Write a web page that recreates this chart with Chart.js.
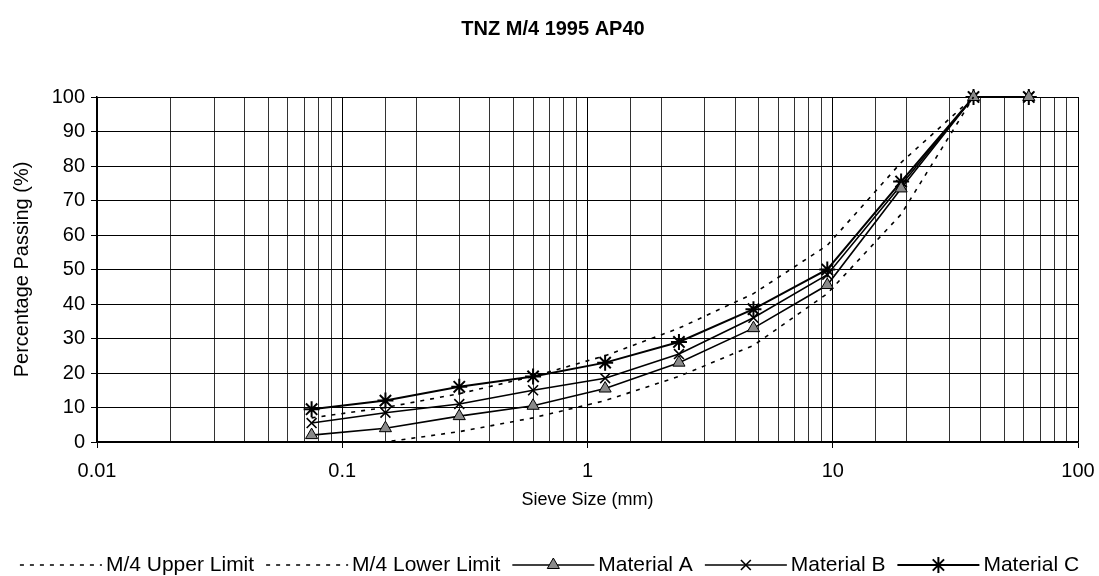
<!DOCTYPE html>
<html lang="en">
<head>
  <meta charset="UTF-8">
  <title>TNZ M/4 1995 AP40</title>
  <script src="https://cdn.jsdelivr.net/npm/chart.js"></script>
  <style>
    html, body {
      margin: 0;
      padding: 0;
      background: #fff;
    }
    #wrap {
      width: 1099px;
      height: 576px;
    }
  </style>
</head>
<body>
  <div id="wrap"><canvas id="gradingChart" width="1099" height="576"></canvas></div>

  <script>
    // sieve sizes (mm) and percentage passing
    const sieveSizes = [0.075, 0.15, 0.3, 0.6, 1.18, 2.36, 4.75, 9.5, 19, 37.5, 63];
    const upperLimit = [7, 10, 14, 19, 25, 33, 43, 57, 81, 100];
    const lowerLimit = [0, 0, 3, 7, 12, 19, 28, 43, 66, 100];
    const materialA = [2, 4, 7.5, 10.5, 15.5, 23, 33, 45.5, 73.5, 100, 100];
    const materialB = [5.5, 8.5, 11, 15, 18.5, 25.5, 36, 48.5, 74.5, 100, 100];
    const materialC = [9.5, 12, 16, 19, 23, 29, 38.5, 50, 75.5, 100, 100];
    const yTicks = [0, 10, 20, 30, 40, 50, 60, 70, 80, 90, 100];
    const chartTitle = 'TNZ M/4 1995 AP40';

    const FONT = "'Liberation Sans', Arial, sans-serif";

    function toPoints(values) {
      return values.map((v, i) => ({ x: sieveSizes[i], y: v }));
    }

    function isDecade(v) {
      const l = Math.log10(v);
      return Math.abs(l - Math.round(l)) < 1e-6;
    }

    const datasets = [
      {
        label: 'M/4 Upper Limit',
        data: toPoints(upperLimit),
        borderColor: '#000',
        borderWidth: 1.6,
        borderDash: [4, 6],
        pointRadius: 0
      },
      {
        label: 'M/4 Lower Limit',
        data: toPoints(lowerLimit),
        borderColor: '#000',
        borderWidth: 1.6,
        borderDash: [4, 6],
        pointRadius: 0
      },
      {
        label: 'Material A',
        data: toPoints(materialA),
        borderColor: '#000',
        borderWidth: 1.6,
        pointStyle: 'triangle',
        pointRadius: 7,
        pointBackgroundColor: '#8a8a8a',
        pointBorderColor: '#000',
        pointBorderWidth: 1
      },
      {
        label: 'Material B',
        data: toPoints(materialB),
        borderColor: '#000',
        borderWidth: 1.6,
        pointStyle: 'crossRot',
        pointRadius: 7,
        pointBorderColor: '#000',
        pointBorderWidth: 1.6
      },
      {
        label: 'Material C',
        data: toPoints(materialC),
        borderColor: '#000',
        borderWidth: 2,
        pointStyle: 'star',
        pointRadius: 8,
        pointBorderColor: '#000',
        pointBorderWidth: 2
      }
    ];
    datasets.forEach(ds => { ds.clip = false; });

    // title on top, legend along the bottom (sample line with marker, then label)
    const titleAndLegend = {
      id: 'titleAndLegend',
      afterDraw(chart) {
        const ctx = chart.ctx;
        ctx.save();
        ctx.fillStyle = '#000';
        ctx.font = 'bold 20px ' + FONT;
        ctx.textAlign = 'center';
        ctx.textBaseline = 'middle';
        ctx.fillText(chartTitle, 553, 29);

        const y = 565;
        const lineLen = 82;
        const gap = 4;
        const spacing = 12;
        ctx.font = '21px ' + FONT;
        ctx.textAlign = 'left';
        const items = chart.data.datasets;
        let total = 0;
        items.forEach(ds => { total += lineLen + gap + ctx.measureText(ds.label).width + spacing; });
        let x = (chart.width - total + spacing) / 2;
        items.forEach(ds => {
          ctx.strokeStyle = ds.borderColor;
          ctx.lineWidth = ds.borderWidth;
          ctx.setLineDash(ds.borderDash || []);
          ctx.beginPath();
          ctx.moveTo(x, y);
          ctx.lineTo(x + lineLen, y);
          ctx.stroke();
          ctx.setLineDash([]);
          if (ds.pointStyle) {
            ctx.fillStyle = ds.pointBackgroundColor || '#000';
            ctx.strokeStyle = '#000';
            ctx.lineWidth = ds.pointBorderWidth;
            Chart.helpers.drawPoint(ctx, {
              pointStyle: ds.pointStyle,
              radius: ds.pointRadius,
              borderWidth: ds.pointBorderWidth,
              rotation: 0
            }, x + lineLen / 2, y);
          }
          x += lineLen + gap;
          ctx.fillStyle = '#000';
          ctx.fillText(ds.label, x, y);
          x += ctx.measureText(ds.label).width + spacing;
        });
        ctx.restore();
      }
    };

    new Chart(document.getElementById('gradingChart'), {
      type: 'line',
      data: { datasets: datasets },
      plugins: [titleAndLegend],
      options: {
        responsive: false,
        animation: false,
        layout: {
          padding: { left: 0, right: 21, top: 97, bottom: 60 }
        },
        plugins: {
          legend: { display: false },
          tooltip: { enabled: false },
          title: { display: false }
        },
        scales: {
          x: {
            type: 'logarithmic',
            min: 0.01,
            max: 100,
            afterFit(scale) {
              scale.height = 74;
              scale.paddingLeft = 0;
              scale.paddingRight = 0;
            },
            grid: {
              color: ctx => isDecade(ctx.tick.value) ? '#000' : '#333',
              tickColor: ctx => isDecade(ctx.tick.value) ? '#000' : 'rgba(0,0,0,0)',
              tickLength: 6,
              lineWidth: 1
            },
            border: { color: '#000', width: 1.5 },
            ticks: {
              autoSkip: false,
              maxRotation: 0,
              padding: 11,
              color: '#000',
              font: { family: FONT, size: 20 },
              callback: v => isDecade(v) ? String(Number(v.toPrecision(1))) : ''
            },
            title: {
              display: true,
              text: 'Sieve Size (mm)',
              color: '#000',
              font: { family: FONT, size: 18 },
              padding: { top: 0, bottom: 5 }
            }
          },
          y: {
            min: 0,
            max: 100,
            afterFit(scale) {
              scale.width = 97;
              scale.paddingTop = 0;
              scale.paddingBottom = 0;
            },
            afterBuildTicks(scale) { scale.ticks = yTicks.map(v => ({ value: v })); },
            grid: {
              color: '#000',
              tickLength: 6,
              lineWidth: 1
            },
            border: { color: '#000', width: 1.5 },
            ticks: {
              padding: 6,
              color: '#000',
              font: { family: FONT, size: 20 }
            },
            title: {
              display: true,
              text: 'Percentage Passing (%)',
              color: '#000',
              font: { family: FONT, size: 20 },
              padding: { top: 10, bottom: 0 }
            }
          }
        }
      }
    });
  </script>
</body>
</html>
